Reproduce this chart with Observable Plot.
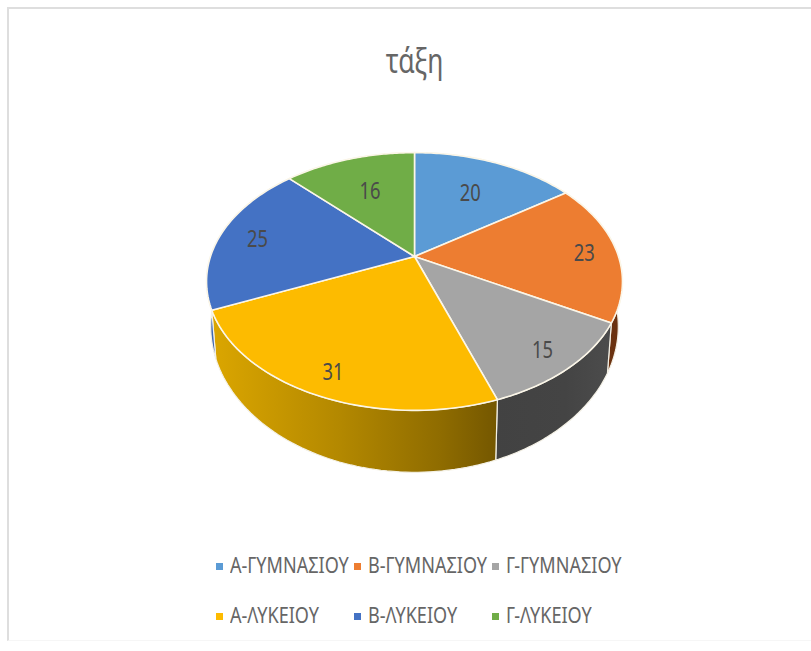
<!DOCTYPE html>
<html>
<head>
<meta charset="utf-8">
<script src="https://cdn.jsdelivr.net/npm/d3@7"></script>
<script src="https://cdn.jsdelivr.net/npm/@observablehq/plot@0.6"></script>
<style>
  html, body { margin: 0; padding: 0; background: #fff; }
  body { width: 811px; height: 651px; position: relative; overflow: hidden;
         font-family: "Noto Sans", sans-serif; color: #666; }
  #frame { position: absolute; left: 7px; top: 7px; width: 820px; height: 631px;
           border-top: 2px solid #dedede; border-left: 2px solid #dedede; border-bottom: 1px solid #f6f6f6; }
  #title { position: absolute; left: 0; width: 829px; top: 40px; text-align: center; font-size: 34px; line-height: 40px;
           transform: scaleX(0.78); transform-origin: 415px 0; }
  #chart { position: absolute; left: 0; top: 100px; }
  #legend { position: absolute; left: 216px; top: 540px; display: grid;
            grid-template-columns: 138px 138px auto; grid-auto-rows: 50px; font-size: 21px; align-items: center; }
  #legend div { white-space: nowrap; }
  #legend span.s { display: inline-block; width: 7px; height: 7px; margin-right: 7px; vertical-align: 3px; }
  #legend span.t { display: inline-block; transform: scaleX(0.86); transform-origin: 0 50%; }
</style>
</head>
<body>
<div id="frame"></div>
<div id="title">τάξη</div>
<div id="chart"></div>
<div id="legend"></div>
<script>
const categories = ["Α-ΓΥΜΝΑΣΙΟΥ", "Β-ΓΥΜΝΑΣΙΟΥ", "Γ-ΓΥΜΝΑΣΙΟΥ", "Α-ΛΥΚΕΙΟΥ", "Β-ΛΥΚΕΙΟΥ", "Γ-ΛΥΚΕΙΟΥ"];
const values = [20, 23, 15, 31, 25, 16];
const colors = ["#5B9BD5", "#ED7D31", "#A5A5A5", "#FDBB00", "#4472C4", "#70AD47"];
const wallFills = ["#3a6ea0", "#6b3210", "url(#wallGray)", "url(#wallGold)", "#3f68b5", "#436b2b"];

// Perspective view of a tilted disc
const total = d3.sum(values);
const A = 204, B = 124, K = 0.194, DROP = 42, SHRINK = 0.98;
const top3d = (ang, r = 1) => {
  const u = r * Math.sin(ang), v = r * Math.cos(ang), w = 1 + K * v;
  return { x: A * u / w, y: B * v / w };
};
const low3d = (ang) => {
  const p = top3d(ang), w = 1 + K * Math.cos(ang);
  return { x: p.x * SHRINK, y: p.y - DROP / Math.pow(w, 1.8) };
};
const arc = (a0, a1, f) => d3.range(0, 61).map(i => f(a0 + (a1 - a0) * i / 60));

let cum = 0;
const slices = categories.map((name, i) => {
  const a0 = cum / total * 2 * Math.PI;
  cum += values[i];
  const a1 = cum / total * 2 * Math.PI;
  return { name, i, value: values[i], a0, a1, mid: (a0 + a1) / 2 };
});

const topPts = slices.flatMap(s => {
  const pts = [{ x: 0, y: 0 }, ...arc(s.a0, s.a1, top3d), { x: 0, y: 0 }];
  return pts.map(p => ({ ...p, name: s.name }));
});
const wallPts = s => {
  const t = arc(s.a0, s.a1, top3d), b = arc(s.a0, s.a1, low3d).reverse();
  return [...t, ...b, t[0]];
};
const labels = slices.map(s => {
  const r = 0.85 - 0.22 * Math.max(0, Math.cos(s.mid));
  return { ...top3d(s.mid, r), value: s.value };
});

const defs = () => {
  const d = d3.create("svg:defs");
  const grad = (id, stops) => {
    const g = d.append("svg:linearGradient").attr("id", id);
    stops.forEach(([o, c]) => g.append("svg:stop").attr("offset", o).attr("stop-color", c));
  };
  grad("wallGold", [[0, "#dba600"], [0.45, "#b38800"], [0.8, "#8f6c00"], [1, "#745700"]]);
  grad("wallGray", [[0, "#424242"], [0.6, "#444444"], [1, "#4c4c4c"]]);
  return d.node();
};

const plot = Plot.plot({
  width: 811, height: 400,
  margin: 0,
  x: { domain: [-414, 397], axis: null },
  y: { domain: [-244, 156], axis: null },
  color: { domain: categories, range: colors },
  marks: [
    defs,
    ...slices.map(s => Plot.line(wallPts(s), {
      x: "x", y: "y", fill: wallFills[s.i], stroke: "#f4f1e6", strokeWidth: 1.2, strokeLinejoin: "round"
    })),
    Plot.line(topPts, {
      x: "x", y: "y", z: "name", fill: "name", stroke: "#fbf6e8", strokeWidth: 1.6, strokeLinejoin: "round"
    }),
    Plot.text(labels, {
      x: "x", y: "y", text: "value", fontSize: 23, dy: 2, fill: "#4a4a4a",
      fontFamily: "'Noto Sans', sans-serif"
    })
  ]
});
d3.select(plot).selectAll("text").attr("textLength", 21).attr("lengthAdjust", "spacingAndGlyphs");
document.getElementById("chart").append(plot);

const legend = d3.select("#legend");
categories.forEach((c, i) => {
  const item = legend.append("div");
  item.append("span").attr("class", "s").style("background", colors[i]);
  item.append("span").attr("class", "t").text(c);
});
</script>
</body>
</html>
